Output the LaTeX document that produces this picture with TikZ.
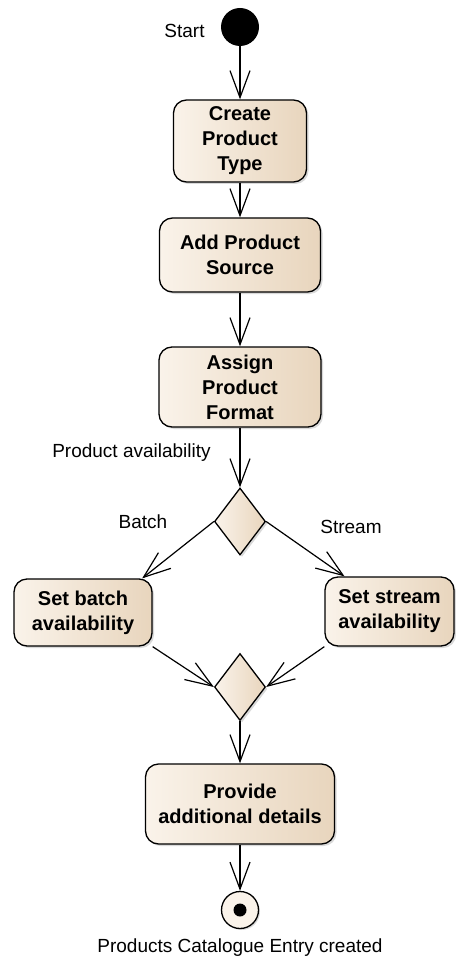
\documentclass[tikz,border=0pt]{standalone}
\usepackage{fontspec}
\setmainfont{Liberation Sans}
\usetikzlibrary{shapes.geometric,arrows.meta,shadows}

\definecolor{azchiaro}{RGB}{250,243,234}
\definecolor{azscuro}{RGB}{232,213,189}

\tikzset{
  % attività (rettangoli arrotondati)
  attivita/.style={draw=black, line width=1.3pt, rounded corners=13pt,
    left color=azchiaro, right color=azscuro, align=center, inner sep=2pt,
    font=\bfseries\fontsize{20}{25}\selectfont,
    drop shadow={shadow xshift=2pt, shadow yshift=-2pt, opacity=0.3}},
  % rombo di decisione / unione
  scelta/.style={diamond, draw=black, line width=1.3pt, inner sep=0pt,
    minimum width=51pt, minimum height=67pt,
    left color=azchiaro, right color=azscuro,
    drop shadow={shadow xshift=2pt, shadow yshift=-2pt, opacity=0.3}},
  inizio/.style={circle, fill=black, minimum size=38pt, inner sep=0pt},
  fine/.style={circle, draw=black, line width=1.3pt, fill=azchiaro,
    minimum size=37pt, inner sep=0pt,
    drop shadow={shadow xshift=1.5pt, shadow yshift=-1.5pt, opacity=0.3}},
  etichetta/.style={anchor=base, font=\fontsize{19}{23}\selectfont},
  flusso/.style={-{Straight Barb[length=27pt,width=20pt]}, line width=1.2pt}
}

\begin{document}
\begin{tikzpicture}[x=1pt, y=-1pt]

        \useasboundingbox (0,0) rectangle (455,965);

        % Inizio
        \node[inizio] (start) at (240,27) {};
        \node[etichetta] (lstart) at (184.5,38) {Start};

        % Attività principali
        \node[attivita, minimum width=133pt, minimum height=82pt] (tipo) at (240,141) {Create\\Product\\Type};
        \node[attivita, minimum width=161pt, minimum height=74pt] (fonte) at (240,255) {Add Product\\Source};
        \node[attivita, minimum width=162pt, minimum height=80pt] (formato) at (240,387) {Assign\\Product\\Format};

        % Decisione
        \node[etichetta] (ldisp) at (131.5,457) {Product availability};
        \node[scelta] (scelta) at (240,521.5) {};
        \node[etichetta] (lbatch) at (143,528) {Batch};
        \node[etichetta] (lstream) at (351,533) {Stream};

        % Rami
        \node[attivita, minimum width=138pt, minimum height=67pt] (batch) at (83,612.5) {Set batch\\availability};
        \node[attivita, minimum width=129pt, minimum height=69pt] (stream) at (389.5,611.5) {Set stream\\availability};

        % Unione e dettagli
        \node[scelta] (unione) at (240,687) {};
        \node[attivita, minimum width=189pt, minimum height=80pt] (dettagli) at (240,804) {Provide\\additional details};

        % Fine
        \node[fine] (fine) at (240,910) {};
        \fill (fine.center) circle (6.5pt);
        \node[etichetta] (lfine) at (240,952) {Products Catalogue Entry created};

        % Frecce
        \draw[flusso] (start) -- (tipo);
        \draw[flusso] (tipo) -- (fonte);
        \draw[flusso] (fonte) -- (formato);
        \draw[flusso] (formato) -- (scelta);
        \draw[flusso] (scelta.west) -- (batch.30);
        \draw[flusso] (scelta.east) -- (stream.142);
        \draw[flusso] (batch.south east) -- (unione.west);
        \draw[flusso] (stream.south west) -- (unione.east);
        \draw[flusso] (unione) -- (dettagli);
        \draw[flusso] (dettagli) -- (fine);

\end{tikzpicture}
\end{document}
